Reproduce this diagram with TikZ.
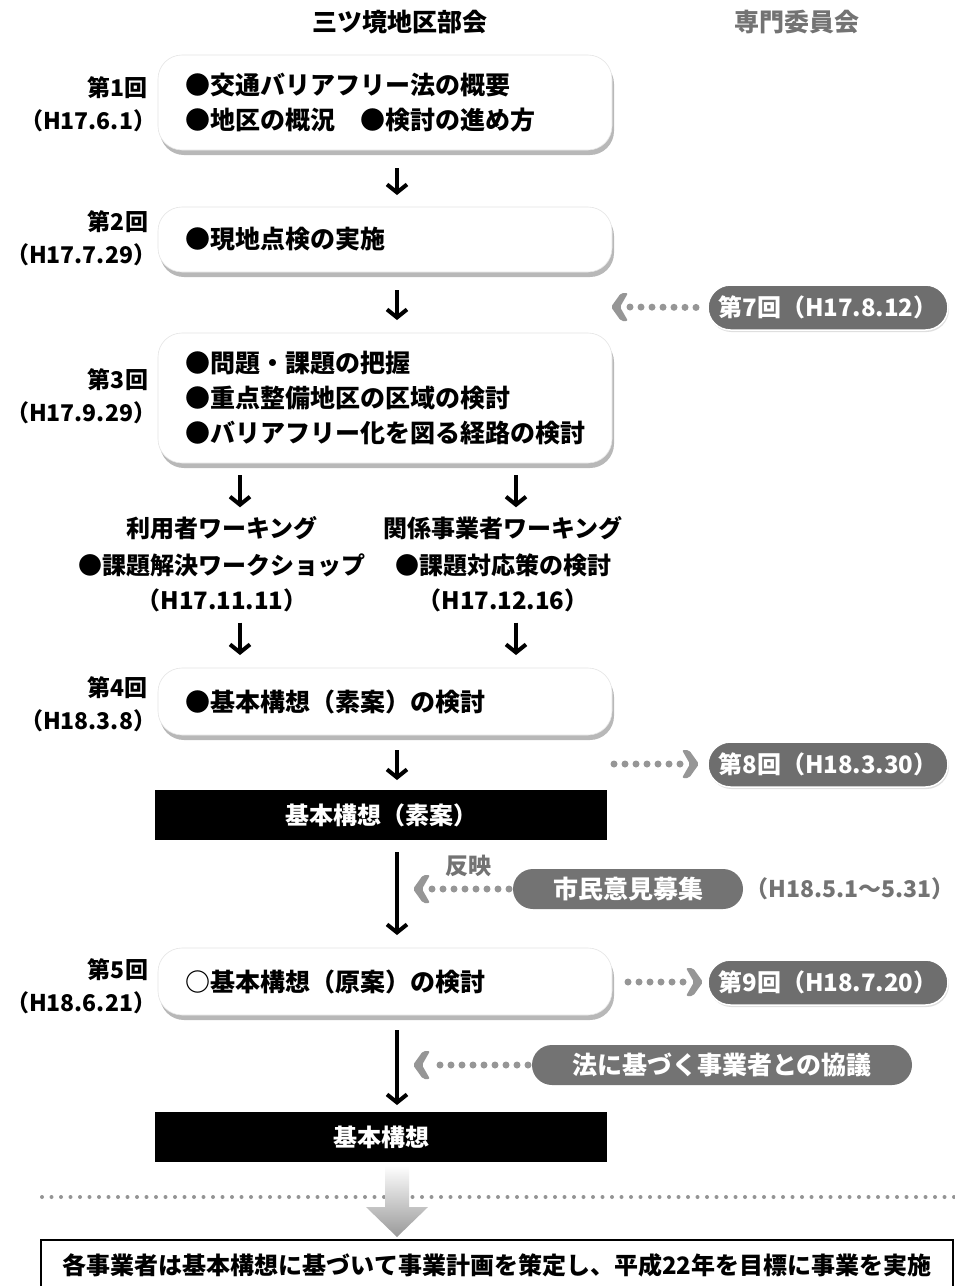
\documentclass[tikz,border=0pt]{standalone}
\usepackage{fontspec}
\setmainfont{Noto Sans CJK JP}
\usetikzlibrary{arrows.meta,shadows,shapes.misc,backgrounds}
\definecolor{pillgray}{HTML}{6E6E6E}
\definecolor{dotgray}{HTML}{969696}
\definecolor{labgray}{HTML}{737373}
\newcommand{\rp}{）\kern-0.35em}
\tikzset{
  every node/.style={inner sep=0pt, outer sep=0pt},
  stagebox/.style={fill=white, draw=black!10, line width=0.6pt, rounded corners=24pt,
     minimum width=454pt, text width=400pt, align=left, inner xsep=27pt,
     font=\fontsize{25}{35}\selectfont\bfseries,
     drop shadow={shadow xshift=2pt, shadow yshift=-5pt, opacity=0.28, fill=black}},
  datelabel/.style={anchor=east, align=right, font=\fontsize{23}{33}\selectfont\bfseries},
  worktext/.style={font=\fontsize{24}{30}\selectfont\bfseries},
  blackbox/.style={fill=black, text=white, minimum width=452pt, minimum height=50pt,
     font=\fontsize{24}{28}\selectfont\bfseries},
  pill/.style={rounded rectangle, fill=pillgray, text=white, draw=white, line width=1.5pt,
     minimum width=240pt, minimum height=45pt, font=\fontsize{24}{28}\selectfont\bfseries,
     drop shadow={shadow xshift=1pt, shadow yshift=-2pt, opacity=.25}},
  blob/.style={fill=black!55, text=white, rounded corners=20pt, minimum height=40pt,
     font=\fontsize{25}{28}\selectfont\bfseries},
  arr/.style={line width=4pt, -{Straight Barb[length=8pt, width=20pt]}},
  dots/.style={draw=dotgray, line width=7pt, line cap=round, dash pattern=on 0pt off 11pt},
  graytext/.style={text=labgray, font=\fontsize{23}{28}\selectfont\bfseries},
  chevL/.pic={\fill[dotgray, rounded corners=2pt] (-17,0) -- (-7,-14) -- (0,-14) -- (-8,0) -- (0,14) -- (-7,14) -- cycle;},
  chevR/.pic={\fill[dotgray, rounded corners=2pt] (17,0) -- (7,-14) -- (0,-14) -- (8,0) -- (0,14) -- (7,14) -- cycle;},
}
\begin{document}
\begin{tikzpicture}[x=1pt,y=-1pt]
\useasboundingbox (0,0) rectangle (955,1286);
\fill[white] (0,0) rectangle (955,1286);
\coordinate (col) at (397,0);
\coordinate (colA) at (240,0);
\coordinate (colB) at (516,0);

% headers
\node[font=\fontsize{25}{30}\selectfont\bfseries] (h1) at (400,22) {三ツ境地区部会};
\node[graytext, font=\fontsize{25}{30}\selectfont\bfseries] (h2) at (797,22) {専門委員会};

% stage boxes
\node[stagebox, minimum height=95pt] (b1) at (385,102.5) {●交通バリアフリー法の概要\\●地区の概況\hspace{1em}●検討の進め方};
\node[datelabel] (l1) at (148,104) {第1回\\（H17.6.1\rp};

\node[stagebox, minimum height=65pt] (b2) at (385,239.5) {●現地点検の実施};
\node[datelabel] (l2) at (148,238) {第2回\\（H17.7.29\rp};

\node[stagebox, minimum height=130pt] (b3) at (385,398) {●問題・課題の把握\\●重点整備地区の区域の検討\\●バリアフリー化を図る経路の検討};
\node[datelabel] (l3) at (148,396) {第3回\\（H17.9.29\rp};

\node[worktext] (w1a) at (222,528) {利用者ワーキング};
\node[worktext] (w1b) at (222,565) {●課題解決ワークショップ};
\node[worktext] (w1c) at (222,600) {（H17.11.11）};
\node[worktext] (w2a) at (503,528) {関係事業者ワーキング};
\node[worktext] (w2b) at (503,565) {●課題対応策の検討};
\node[worktext] (w2c) at (503,600) {（H17.12.16）};

\node[stagebox, minimum height=67pt] (b4) at (385,701.5) {●基本構想（素案）の検討};
\node[datelabel] (l4) at (148,704) {第4回\\（H18.3.8\rp};

\node[blackbox] (bb1) at (381,815) {基本構想（素案）};

\node[stagebox, minimum height=67pt] (b5) at (385,981.5) {○基本構想（原案）の検討};
\node[datelabel] (l5) at (148,986) {第5回\\（H18.6.21\rp};

\node[blackbox] (bb2) at (381,1137) {基本構想};

\node[draw=black, line width=2pt, minimum width=912pt, minimum height=50pt,
      font=\fontsize{24}{28}\selectfont\bfseries] (fin) at (497,1265)
      {各事業者は基本構想に基づいて事業計画を策定し、平成22年を目標に事業を実施};

% committee pills
\node[pill] (p7) at (828,307.5) {第7回（H17.8.12）};
\node[pill] (p8) at (828,764.5) {第8回（H18.3.30）};
\node[pill] (p9) at (828,982.5) {第9回（H18.7.20）};

% blobs
\node[blob, minimum width=230pt] (cit) at (628,889) {市民意見募集};
\node[blob, minimum width=380pt] (law) at (722,1065) {法に基づく事業者との協議};
\begin{scope}[on background layer]
  \foreach \k in {1,...,6}{
    \fill[black!50, opacity=.11, rounded corners=24pt]
      ([xshift=-\k*4pt, yshift=-\k*2.5pt]cit.south west) rectangle ([xshift=\k*4pt, yshift=\k*2.5pt]cit.north east);
    \fill[black!50, opacity=.11, rounded corners=24pt]
      ([xshift=-\k*4pt, yshift=-\k*2.5pt]law.south west) rectangle ([xshift=\k*4pt, yshift=\k*2.5pt]law.north east);
  }
\end{scope}
\node[graytext] (ref) at (468,866) {反映};
\node[graytext] (cdate) at (850,889) {（H18.5.1〜5.31）};

% main arrows
\draw[arr, shorten <=18pt, shorten >=12pt] (b1.south -| col) -- (b2.north -| col);
\draw[arr, shorten <=18pt, shorten >=13pt] (b2.south -| col) -- (b3.north -| col);
\draw[arr, shorten <=12pt, shorten >=9pt] (b3.south -| colA) -- (w1a.north -| colA);
\draw[arr, shorten <=12pt, shorten >=9pt] (b3.south -| colB) -- (w2a.north -| colB);
\draw[arr, shorten <=11pt, shorten >=13pt] (w1c.south -| colA) -- (b4.north -| colA);
\draw[arr, shorten <=11pt, shorten >=13pt] (w2c.south -| colB) -- (b4.north -| colB);
\draw[arr, shorten <=15pt, shorten >=10pt] (b4.south -| col) -- (bb1.north -| col);
\draw[arr, shorten <=12pt, shorten >=13pt] (bb1.south -| col) -- (b5.north -| col);
\draw[arr, shorten <=15pt, shorten >=7pt] (b5.south -| col) -- (bb2.north -| col);

% dotted connectors
\coordinate (t7) at (628,307);
\draw[dots, shorten <=12pt] (p7.west) -- (t7);
\pic at (t7) {chevL};

\coordinate (s8) at (614,764);
\coordinate (t8) at (682,764);
\draw[dots] (s8) -- (t8);
\pic at (t8) {chevR};

\coordinate (s9) at (628,982);
\coordinate (t9) at (686,982);
\draw[dots] (s9) -- (t9);
\pic at (t9) {chevR};

\coordinate (tc) at (430,889);
\draw[dots, shorten <=4pt] (cit.west) -- (tc);
\pic at (tc) {chevL};

\coordinate (tl) at (430,1065);
\draw[dots, shorten <=4pt] (law.west) -- (tl);
\pic at (tl) {chevL};

% separator line and final arrow
\coordinate (sepL) at (42,1197);
\coordinate (sepR) at (955,1197);
\draw[draw=black!42, line width=4pt, line cap=round, dash pattern=on 0pt off 9.5pt] (sepL) -- (sepR);
\shade[top color=white, bottom color=black!40]
  (385,1165) -- (409,1165) -- (409,1207) -- (428,1207) -- (397,1237) -- (366,1207) -- (385,1207) -- cycle;
\end{tikzpicture}
\end{document}
